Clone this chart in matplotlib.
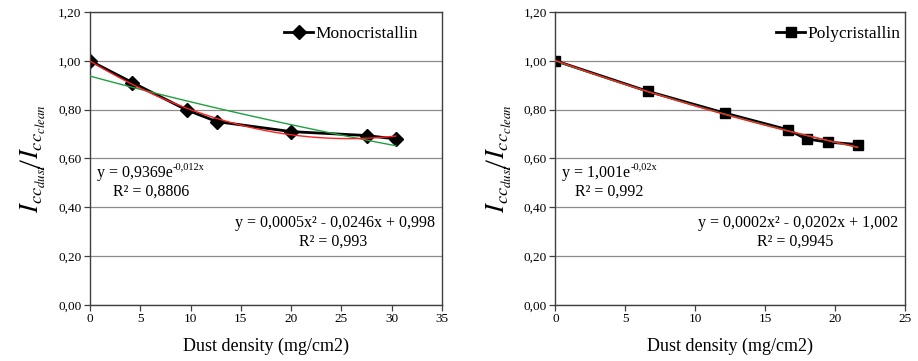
import numpy as np
import matplotlib.pyplot as plt
from matplotlib.ticker import FuncFormatter
from matplotlib.transforms import offset_copy

# Monocristallin measurements
mono_x = [0.0, 4.2, 9.6, 12.6, 20.0, 27.5, 30.4]
mono_y = [1.000, 0.911, 0.799, 0.751, 0.710, 0.694, 0.680]

# Polycristallin measurements
poly_x = [0.0, 6.6, 12.1, 16.6, 17.95, 19.5, 21.6]
poly_y = [1.000, 0.875, 0.786, 0.718, 0.680, 0.667, 0.657]

# trendline labels (base, exponent)
mono_exp_txt = ('y = 0,9369e', '-0,012x')
mono_exp_r2 = 'R² = 0,8806'
mono_pol_txt = 'y = 0,0005x² - 0,0246x + 0,998'
mono_pol_r2 = 'R² = 0,993'
poly_exp_txt = ('y = 1,001e', '-0,02x')
poly_exp_r2 = 'R² = 0,992'
poly_pol_txt = 'y = 0,0002x² - 0,0202x + 1,002'
poly_pol_r2 = 'R² = 0,9945'

plt.rcParams['font.family'] = ['Liberation Serif', 'DejaVu Serif']
plt.rcParams['mathtext.fontset'] = 'stix'
plt.rcParams['axes.unicode_minus'] = False

fig = plt.figure(figsize=(9.18, 3.61), dpi=100)
ax1 = fig.add_axes([0.098, 0.155, 0.3835, 0.812])
ax2 = fig.add_axes([0.605, 0.155, 0.381, 0.812])

comma = FuncFormatter(lambda v, p: ('%.2f' % v).replace('.', ','))


def setup(ax, xmax, xstep):
    ax.set_xlim(0, xmax)
    ax.set_ylim(0, 1.2)
    ax.set_xticks(np.arange(0, xmax + 0.1, xstep))
    ax.set_yticks(np.arange(0, 1.21, 0.2))
    ax.yaxis.set_major_formatter(comma)
    ax.grid(axis='y', color='#8c8c8c', lw=0.9)
    ax.set_axisbelow(True)
    for s in ax.spines.values():
        s.set_color('#404040')
        s.set_linewidth(1.0)
    ax.tick_params(direction='out', length=4, width=0.9, color='#404040',
                   labelsize=9.5, pad=2)
    ax.set_xlabel('Dust density (mg/cm2)', fontsize=13, labelpad=9)
    ax.set_ylabel(r'$I_{cc_{dust}}\!\!\left/ I_{cc_{clean}}\right.$',
                  fontsize=19, labelpad=8)


def trends(ax, x, y, exp_color):
    x = np.array(x)
    y = np.array(y)
    xs = np.linspace(0, x.max(), 100)
    b, a = np.polyfit(x, np.log(y), 1)
    ax.plot(xs, np.exp(a) * np.exp(b * xs), color=exp_color, lw=1, zorder=3)
    c = np.polyfit(x, y, 2)
    ax.plot(xs, np.polyval(c, xs), color='#ff2020', lw=1, zorder=4)


def labels(ax, exp_txt, exp_r2, pol_txt, pol_r2, r2x, polr2x):
    t = ax.text(0.02, 0.45, exp_txt[0], transform=ax.transAxes,
                fontsize=11.5, va='center')
    fig.canvas.draw()
    bb = t.get_window_extent().transformed(ax.transAxes.inverted())
    ax.text(bb.x1, 0.45, exp_txt[1], fontsize=7.5, va='bottom',
            transform=offset_copy(ax.transAxes, fig=fig, x=0, y=1, units='points'))
    ax.text(r2x, 0.386, exp_r2, transform=ax.transAxes, fontsize=11.5, va='center')
    ax.text(0.98, 0.28, pol_txt, transform=ax.transAxes, fontsize=11.5,
            ha='right', va='center')
    ax.text(polr2x, 0.218, pol_r2, transform=ax.transAxes, fontsize=11.5,
            ha='center', va='center')


# left chart
setup(ax1, 35, 5)
ax1.plot(mono_x, mono_y, color='black', lw=2, marker='D', ms=7, zorder=2,
         label='Monocristallin')
trends(ax1, mono_x, mono_y, '#1fa040')
labels(ax1, mono_exp_txt, mono_exp_r2, mono_pol_txt, mono_pol_r2, 0.065, 0.69)
ax1.legend(loc='upper right', bbox_to_anchor=(0.97, 1.0), frameon=False,
           fontsize=12.5, handlelength=1.7, handletextpad=0.1, borderaxespad=0.4)

# right chart
setup(ax2, 25, 5)
ax2.plot(poly_x, poly_y, color='black', lw=2, marker='s', ms=6.5, zorder=2,
         label='Polycristallin')
trends(ax2, poly_x, poly_y, '#1fa040')
labels(ax2, poly_exp_txt, poly_exp_r2, poly_pol_txt, poly_pol_r2, 0.055, 0.685)
ax2.legend(loc='upper right', bbox_to_anchor=(1.025, 1.0), frameon=False,
           fontsize=12.5, handlelength=1.7, handletextpad=0.1, borderaxespad=0.4)

fig.savefig('out.png', dpi=100)
